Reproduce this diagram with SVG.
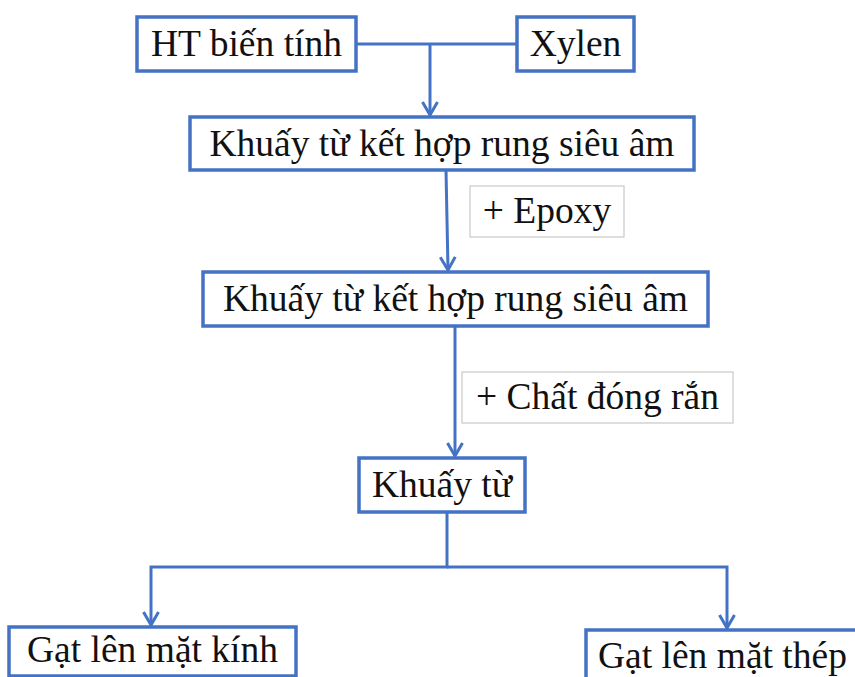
<svg xmlns="http://www.w3.org/2000/svg" width="855" height="677" viewBox="0 0 855 677">
<defs>
<style>
.n{fill:#fff;stroke:#4472C4;stroke-width:3.5}
.l{fill:#fff;stroke:#c8c8c8;stroke-width:1.2}
.t{font-family:"Liberation Serif","Times New Roman",serif;font-size:37.5px;fill:#111}
.c{fill:none;stroke:#4472C4;stroke-width:3}
</style>
<marker id="a" viewBox="0 0 16 18" refX="14.5" refY="9" markerWidth="16" markerHeight="18" markerUnits="userSpaceOnUse" orient="auto">
<path d="M1.5,1.5 L14.5,9 L1.5,16.5" fill="none" stroke="#4472C4" stroke-width="3"/>
</marker>
</defs>
<rect width="855" height="677" fill="#fff"/>
<g id="connectors">
<path class="c" d="M356,44 H517"/>
<path class="c" d="M430,44 V115" marker-end="url(#a)"/>
<path class="c" d="M446,170 L448,270" marker-end="url(#a)"/>
<path class="c" d="M455,326 V456" marker-end="url(#a)"/>
<path class="c" d="M447,512 V567 H151 V625" marker-end="url(#a)"/>
<path class="c" d="M447,567 H727 V628" marker-end="url(#a)"/>
</g>
<g id="n1"><rect class="n" x="137" y="17" width="219" height="54"/><text class="t" x="246.5" y="56" text-anchor="middle">HT biến tính</text></g>
<g id="n2"><rect class="n" x="517" y="17" width="117" height="54"/><text class="t" x="575.5" y="56" text-anchor="middle">Xylen</text></g>
<g id="n3"><rect class="n" x="190" y="117" width="504" height="53"/><text class="t" x="442" y="156" text-anchor="middle">Khuấy từ kết hợp rung siêu âm</text></g>
<g id="l1"><rect class="l" x="470" y="186" width="154" height="51"/><text class="t" x="547" y="223" text-anchor="middle">+ Epoxy</text></g>
<g id="n4"><rect class="n" x="203" y="272" width="505" height="54"/><text class="t" x="455.5" y="311" text-anchor="middle">Khuấy từ kết hợp rung siêu âm</text></g>
<g id="l2"><rect class="l" x="462" y="372" width="271" height="51"/><text class="t" x="597.5" y="409" text-anchor="middle">+ Chất đóng rắn</text></g>
<g id="n5"><rect class="n" x="359" y="458" width="166" height="54"/><text class="t" x="442" y="497" text-anchor="middle">Khuấy từ</text></g>
<g id="n6"><rect class="n" x="9" y="627" width="287" height="49"/><text class="t" x="152.5" y="662" text-anchor="middle">Gạt lên mặt kính</text></g>
<g id="n7"><rect class="n" x="586" y="630" width="280" height="49"/><text class="t" x="598" y="668">Gạt lên mặt thép</text></g>
</svg>
